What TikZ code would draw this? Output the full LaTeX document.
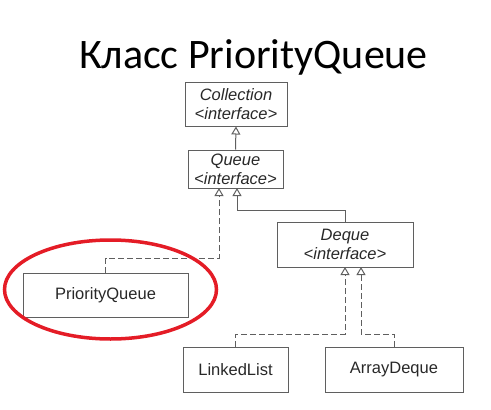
\documentclass[tikz,border=0pt]{standalone}
\usepackage{fontspec}
\setmainfont{Liberation Sans}
\newfontfamily\titlefont{Carlito}
\usetikzlibrary{arrows.meta}
\definecolor{boxgray}{RGB}{95,95,95}
\definecolor{txtgray}{RGB}{40,40,40}
\definecolor{ringred}{RGB}{228,28,38}
\tikzset{
  umlbox/.style={draw=boxgray, line width=1pt, inner sep=0pt, text=txtgray,
    font=\fontsize{16.5}{19}\selectfont, align=center},
  ifc/.style={umlbox, font=\fontsize{16.5}{19}\selectfont\itshape},
  gen/.style={draw=boxgray, line width=1pt, -{Triangle[open, length=8pt, width=9pt]}},
  real/.style={gen, dashed, dash pattern=on 6pt off 3pt}
}
\begin{document}
\begin{tikzpicture}[x=1pt, y=-1pt]
\useasboundingbox (0,0) rectangle (491,410);
% title
\node[anchor=base, font=\titlefont\fontsize{42}{48}\selectfont, text=black, inner sep=0pt] (title) at (253.5,68) {Класс PriorityQueue};
% boxes
\node[ifc, minimum width=102pt, minimum height=44pt] (coll) at (236,104) {Collection\\<interface>};
\node[ifc, minimum width=95pt, minimum height=38pt] (queue) at (235.5,169) {Queue\\<interface>};
\node[ifc, minimum width=136pt, minimum height=45pt] (deque) at (345,244.5) {Deque\\<interface>};
\node[umlbox, minimum width=165pt, minimum height=44pt] (pq) at (105.5,295) {PriorityQueue};
\node[umlbox, minimum width=105pt, minimum height=45pt] (ll) at (235.5,369.5) {LinkedList};
\node[umlbox, minimum width=138pt, minimum height=45pt] (ad) at (394,369.5) {ArrayDeque};
% connectors
\draw[gen] (queue.north) -- (coll.south);
\draw[gen] (deque.north) |- (237,210) -- (237,188);
\draw[real] (pq.north) |- (219,258) -- (219,188);
\draw[real] (ll.north) |- (345,334) -- (345,267);
\draw[real] (ad.north) |- (361,334) -- (361,267);
% red ellipse
\draw[ringred, line width=3.5pt] (110.5,289.5) ellipse [x radius=106pt, y radius=49.5pt];
\end{tikzpicture}
\end{document}
